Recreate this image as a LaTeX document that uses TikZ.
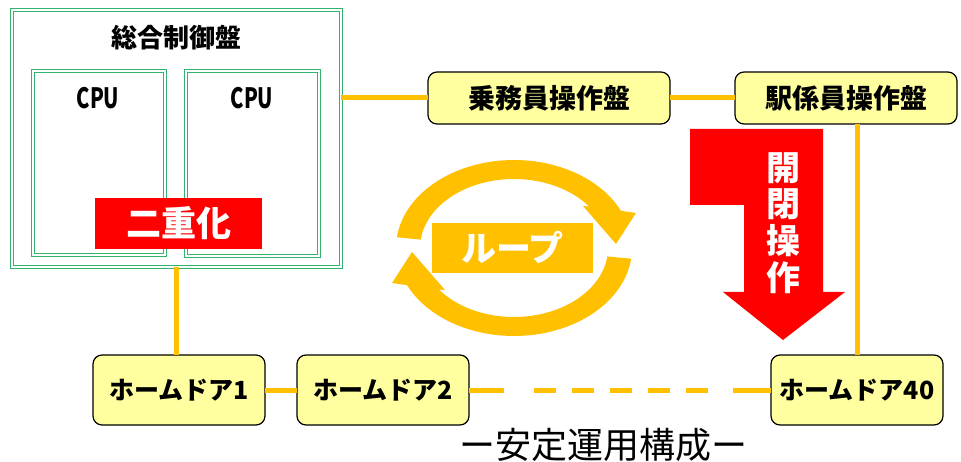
\documentclass[tikz,border=0pt]{standalone}
\usepackage{fontspec}
\setmainfont{Noto Sans CJK JP}
\newfontfamily\cpufont[FakeStretch=0.72]{Noto Sans CJK JP}
\usetikzlibrary{calc}
\definecolor{loopy}{RGB}{255,192,0}
\definecolor{boxy}{RGB}{255,255,160}
\definecolor{gframe}{RGB}{50,180,110}
\definecolor{redx}{RGB}{255,0,0}
\begin{document}
\begin{tikzpicture}[x=1pt,y=-1pt,
  gbox/.style={draw=gframe, double=white, double distance=1.5pt, line width=1.5pt,
    rectangle, inner sep=0pt, outer sep=0pt},
  ybox/.style={draw=black, line width=1.2pt, fill=boxy, rounded corners=9pt,
    rectangle, inner sep=0pt, outer sep=0pt, minimum height=52pt,
    font=\bfseries\fontsize{27}{30}\selectfont},
  dbox/.style={ybox, minimum width=172pt, minimum height=70pt,
    font=\bfseries\fontsize{25}{28}\selectfont},
  link/.style={draw=loopy, line width=5pt},
  cpulabel/.style={font=\cpufont\bfseries\fontsize{28}{30}\selectfont, inner sep=0pt}
]
\useasboundingbox (0,0) rectangle (961,462);
\fill[white] (0,0) rectangle (961,462);

% control panel
\node[gbox, minimum width=329pt, minimum height=257pt] (ctrl) at (176.5,138.5) {};
\node[font=\bfseries\fontsize{26}{28}\selectfont, inner sep=0pt] (title) at (176,38) {総合制御盤};
\node[gbox, minimum width=132pt, minimum height=184pt] (cpuL) at (99,163) {};
\node[gbox, minimum width=133pt, minimum height=185pt] (cpuR) at (252.5,163.5) {};
\node[cpulabel] (cpuLt) at (98,98) {CPU};
\node[cpulabel] (cpuRt) at (252,98) {CPU};
\node[fill=redx, minimum width=167pt, minimum height=51pt, inner sep=0pt,
      text=white, font=\bfseries\fontsize{35}{37}\selectfont] (dual) at (178.5,223.5) {二重化};

% operation panels
\node[ybox, minimum width=242pt] (jomu) at (549,98) {乗務員操作盤};
\node[ybox, minimum width=222pt] (eki) at (846,98) {駅係員操作盤};

% platform doors
\node[dbox] (hd1) at (179,390) {ホームドア1};
\node[dbox] (hd2) at (383,390) {ホームドア2};
\node[dbox] (hd40) at (857,390) {ホームドア40};

% connectors
\draw[link] (ctrl.east |- jomu.west) -- (jomu.west);
\draw[link] (jomu.east) -- (eki.west);
\draw[link] (ctrl.south) -- (ctrl.south |- hd1.north);
\draw[link] (hd40.north) -- (hd40.north |- eki.south);
\draw[link] (hd1.east) -- (hd2.west);
\draw[link, dash pattern=on 35pt off 30pt on 22pt off 16pt on 22pt off 16pt on 22pt off 16pt on 22pt off 16pt on 22pt off 25pt on 40pt]
  (hd2.east) -- (hd40.west);

% loop arrows
\fill[loopy] plot[domain=187:335, samples=60, variable=\t] ({514+118*cos(\t)},{248+88*sin(\t)})
  -- (636,213) -- (616,244) -- (583,206)
  -- plot[domain=323:187, samples=60, variable=\t] ({514+94*cos(\t)},{248+69*sin(\t)}) -- cycle;
\fill[loopy] plot[domain=7:155, samples=60, variable=\t] ({514+118*cos(\t)},{248+88*sin(\t)})
  -- (392,283) -- (412,252) -- (445,290)
  -- plot[domain=143:7, samples=60, variable=\t] ({514+94*cos(\t)},{248+69*sin(\t)}) -- cycle;
\node[fill=loopy, minimum width=161pt, minimum height=50pt, inner sep=0pt,
      text=white, font=\bfseries\fontsize{35}{37}\selectfont] (loop) at (512.5,248) {ループ};

% open/close operation arrow
\fill[redx] (690,129) -- (823,129) -- (823,292) -- (845,292) -- (783,340) -- (723,292)
  -- (744,292) -- (744,205) -- (690,205) -- cycle;
\node[text=white, align=center, inner sep=0pt,
      font=\bfseries\fontsize{34}{36.7}\selectfont] (kaihei) at (783,223) {開\\閉\\操\\作};

% caption
\node[font=\fontsize{36}{38}\selectfont, inner sep=0pt] (caption) at (603,445) {ー安定運用構成ー};
\end{tikzpicture}
\end{document}
